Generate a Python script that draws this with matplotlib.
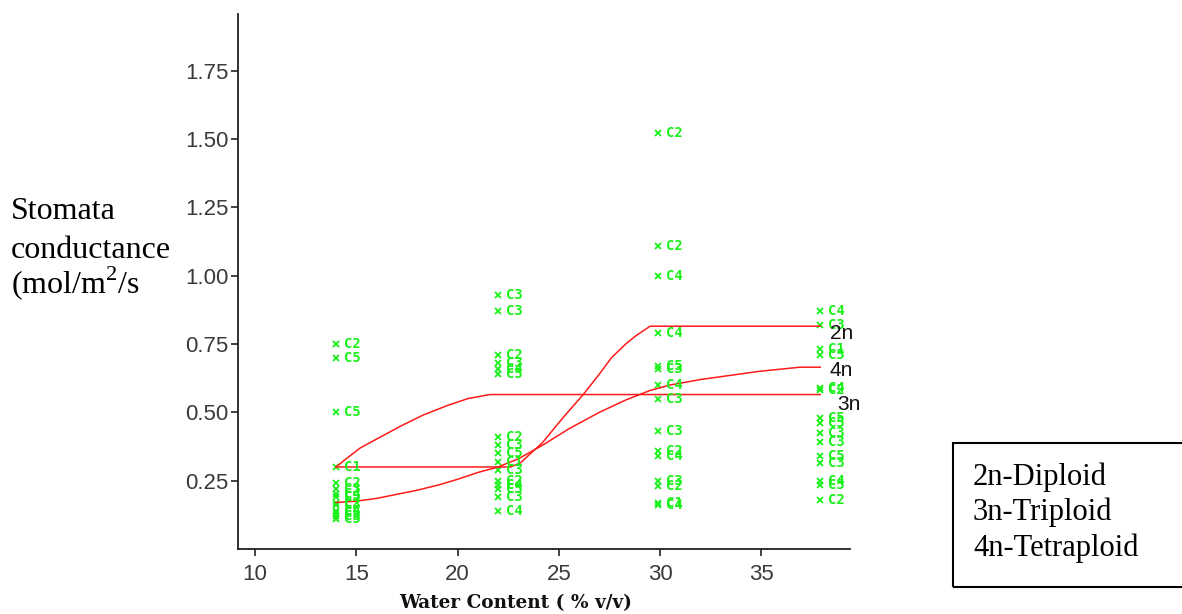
import matplotlib
matplotlib.use("Agg")
import matplotlib.pyplot as plt
from matplotlib.patches import Rectangle

# ---- data ----
x_14 = 14.0
y_14 = [0.75, 0.70, 0.50, 0.30, 0.24, 0.22, 0.20, 0.19, 0.17, 0.16, 0.14, 0.13, 0.12, 0.11]
lab_14 = ["C2", "C5", "C5", "C1", "C2", "C3", "C4", "C5", "C2", "C3", "C4", "C5", "C3", "C5"]

x_22 = 22.0
y_22 = [0.93, 0.87, 0.71, 0.68, 0.66, 0.64, 0.41, 0.38, 0.35, 0.32, 0.29, 0.25, 0.235, 0.22, 0.19, 0.14]
lab_22 = ["C3", "C3", "C2", "C3", "C4", "C5", "C2", "C3", "C5", "C1", "C3", "C2", "C4", "C5", "C3", "C4"]

x_30 = 29.9
y_30 = [1.52, 1.11, 1.00, 0.79, 0.67, 0.66, 0.60, 0.55, 0.43, 0.36, 0.34, 0.25, 0.23, 0.17, 0.16]
lab_30 = ["C2", "C2", "C4", "C4", "C5", "C3", "C4", "C3", "C3", "C2", "C4", "C3", "C2", "C1", "C4"]

x_38 = 37.9
y_38 = [0.87, 0.82, 0.73, 0.71, 0.59, 0.58, 0.48, 0.46, 0.425, 0.39, 0.34, 0.315, 0.25, 0.235, 0.18]
lab_38 = ["C4", "C3", "C1", "C5", "C4", "C2", "C5", "C5", "C3", "C3", "C5", "C3", "C4", "C5", "C2"]

curve_2n_x = [14.0, 22.6, 23.1, 24.2, 25.2, 26.2, 27.0, 27.6, 28.3, 28.8, 29.5, 37.9]
curve_2n_y = [0.30, 0.30, 0.315, 0.39, 0.48, 0.565, 0.64, 0.70, 0.75, 0.78, 0.815, 0.815]

curve_3n_x = [14.0, 14.5, 15.2, 16.2, 17.2, 18.3, 19.5, 20.5, 21.6, 37.9]
curve_3n_y = [0.30, 0.33, 0.37, 0.41, 0.45, 0.49, 0.525, 0.55, 0.565, 0.565]

curve_4n_x = [14.0, 15.0, 16.0, 17.0, 18.0, 19.1, 20.0, 21.0, 22.0, 23.0, 24.2, 25.5,
              27.0, 28.3, 29.5, 30.5, 32.0, 34.9, 36.9, 37.9]
curve_4n_y = [0.17, 0.175, 0.185, 0.20, 0.215, 0.235, 0.255, 0.28, 0.30, 0.33, 0.38, 0.44,
              0.50, 0.545, 0.58, 0.60, 0.62, 0.65, 0.665, 0.665]

curve_labels = ["2n", "4n", "3n"]
curve_label_pos = [(38.38, 0.79), (38.38, 0.652), (38.73, 0.53)]

x_ticks = [10, 15, 20, 25, 30, 35]
y_ticks = [0.25, 0.50, 0.75, 1.00, 1.25, 1.50, 1.75]
legend_lines = ["2n-Diploid", "3n-Triploid", "4n-Tetraploid"]

# ---- figure ----
W, H = 1182, 614
fig = plt.figure(figsize=(W / 100, H / 100), dpi=100)
plt.rcParams['mathtext.fontset'] = 'custom'
plt.rcParams['mathtext.rm'] = 'Liberation Serif'

ax_l, ax_r, ax_b, ax_t = 238, 850, 549, 14
ax = fig.add_axes([ax_l / W, 1 - ax_b / H, (ax_r - ax_l) / W, (ax_b - ax_t) / H])
ax.set_xlim(9.16, 39.37)
ax.set_ylim(0.0, 1.957)

green = "#1af01a"
for xv, ys, labs in [(x_14, y_14, lab_14), (x_22, y_22, lab_22), (x_30, y_30, lab_30), (x_38, y_38, lab_38)]:
    ax.plot([xv] * len(ys), ys, linestyle="none", marker="x", color=green,
            markersize=4.5, markeredgewidth=1.3, clip_on=False)
    for yv, lb in zip(ys, labs):
        ax.annotate(lb, (xv, yv), xytext=(5.5, 0), textcoords="offset points",
                    fontsize=10, family="DejaVu Sans Mono", fontweight="bold",
                    color=green, va="center", ha="left", annotation_clip=False)

red = "#ff1a1a"
for cx, cy in [(curve_2n_x, curve_2n_y), (curve_3n_x, curve_3n_y), (curve_4n_x, curve_4n_y)]:
    ax.plot(cx, cy, color=red, linewidth=1.1)

for lb, (px, py) in zip(curve_labels, curve_label_pos):
    ax.text(px, py, lb, fontsize=15, family="Liberation Sans", color="#111111",
            va="center", ha="left", clip_on=False)

for s in ["top", "right"]:
    ax.spines[s].set_visible(False)
for s in ["left", "bottom"]:
    ax.spines[s].set_linewidth(1.3)
    ax.spines[s].set_color("#222222")

ax.set_xticks(x_ticks)
ax.set_xticklabels([str(t) for t in x_ticks])
ax.set_yticks(y_ticks)
ax.set_yticklabels([f"{t:.2f}" for t in y_ticks])
ax.tick_params(axis="both", direction="out", length=5, width=1.2, color="#222222",
               labelsize=16, labelcolor="#3a3a3a")
ax.tick_params(axis="x", pad=6)
ax.tick_params(axis="y", pad=2)
for t in ax.get_xticklabels() + ax.get_yticklabels():
    t.set_family("Liberation Sans")

# x label
fig.text(516 / W, 1 - 603 / H, "Water Content ( % v/v)", family="DejaVu Serif",
         fontweight="bold", fontsize=13.3, ha="center", va="center", color="#111111")

# y label (three lines)
ylab = ["Stomata", "conductance", "(mol/m$^2$/s"]
ybase = [219, 258, 293]
for t, yb in zip(ylab, ybase):
    fig.text(11 / W, 1 - yb / H, t, family="Liberation Serif", fontsize=23,
             ha="left", va="baseline", color="black")

# legend box
fig.patches.append(Rectangle((953 / W, 1 - 587 / H), (1195 - 953) / W, (587 - 443) / H,
                             transform=fig.transFigure, fill=False, edgecolor="black",
                             linewidth=1.5, clip_on=False))
for t, yc in zip(legend_lines, [477, 512, 548]):
    fig.text(973 / W, 1 - yc / H, t, family="Liberation Serif", fontsize=22,
             ha="left", va="center", color="black")

fig.savefig("out.png", dpi=100, facecolor="white")
